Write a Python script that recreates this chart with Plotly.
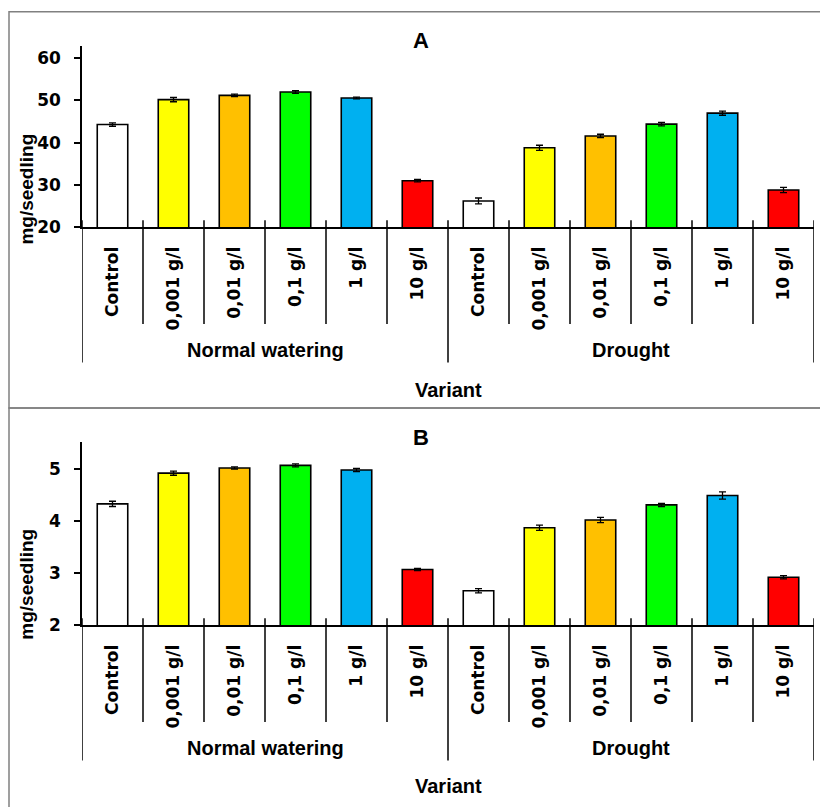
import plotly.graph_objects as go

W, H = 820, 807

categories = ["Control", "0,001 g/l", "0,01 g/l", "0,1 g/l", "1 g/l", "10 g/l"] * 2
groups = ["Normal watering", "Drought"]
bar_colors = ["#FFFFFF", "#FFFF00", "#FFC000", "#00FF00", "#00B0F0", "#FF0000"] * 2

a_values = [44.3, 50.2, 51.2, 52.0, 50.6, 31.0, 26.2, 38.8, 41.6, 44.4, 47.0, 28.8]
a_err = [0.4, 0.5, 0.3, 0.3, 0.2, 0.3, 0.7, 0.6, 0.4, 0.4, 0.5, 0.6]
b_values = [4.33, 4.92, 5.02, 5.07, 4.98, 3.07, 2.66, 3.87, 4.02, 4.31, 4.49, 2.92]
b_err = [0.05, 0.04, 0.02, 0.03, 0.03, 0.02, 0.04, 0.05, 0.05, 0.03, 0.07, 0.03]
a_ticks = [20, 30, 40, 50, 60]
b_ticks = [2, 3, 4, 5]
a_range = [20, 62.8]
b_range = [2, 5.51]
y_title = "mg/seedling"
x_title = "Variant"

ARIAL = "Liberation Sans, Arial, sans-serif"
DJV = "DejaVu Sans, sans-serif"

def px(x):
    return x / W

def py(y):
    return 1 - y / H

xs = list(range(len(categories)))

fig = go.Figure()

panels = [
    dict(vals=a_values, err=a_err, ticks=a_ticks, rng=a_range, top=47, axis=230,
         xa="x", ya="y", label="A", label_y=41, box=(12, 413), ytitle_y=192),
    dict(vals=b_values, err=b_err, ticks=b_ticks, rng=b_range, top=448, axis=633,
         xa="x2", ya="y2", label="B", label_y=443, box=(413, 860), ytitle_y=592),
]

shapes = []
annotations = []

for k, p in enumerate(panels):
    fig.add_trace(go.Bar(
        x=xs, y=p["vals"], width=0.5,
        marker=dict(color=bar_colors, line=dict(color="black", width=1.6)),
        error_y=dict(type="data", array=p["err"], visible=True, color="black",
                     thickness=1.3, width=3.5),
        xaxis=p["xa"], yaxis=p["ya"], showlegend=False, hoverinfo="skip",
    ))
    sfx = "" if k == 0 else "2"
    fig.update_layout(**{
        "xaxis" + sfx: dict(
            domain=[px(82), px(814)], range=[-0.5, len(categories) - 0.5],
            anchor="y" + sfx, showline=True, linecolor="black", linewidth=1.5,
            ticks="", tickvals=xs, ticktext=categories, tickangle=-90,
            tickfont=dict(family=DJV, size=17, color="black", weight="bold"),
            ticklabelstandoff=11, showgrid=False, zeroline=False, fixedrange=True,
        ),
        "yaxis" + sfx: dict(
            domain=[py(p["axis"]), py(p["top"])], range=p["rng"],
            anchor="x" + sfx, showline=True, linecolor="black", linewidth=1.5,
            ticks="outside", ticklen=6, tickwidth=1.5, tickcolor="black",
            tickvals=p["ticks"],
            tickfont=dict(family=DJV, size=17, color="black", weight="bold"),
            ticklabelstandoff=10, showgrid=False, zeroline=False, fixedrange=True,
        ),
    })
    ax = p["axis"]
    for i in range(len(categories) + 1):
        ext = 137 if i % 6 == 0 else 98
        shapes.append(dict(type="line", xref=p["xa"], yref="paper",
                           x0=i - 0.5, x1=i - 0.5, y0=py(ax - 7), y1=py(ax + ext),
                           line=dict(color="black", width=1.5), layer="above"))
    for g, name in enumerate(groups):
        annotations.append(dict(text="<b>%s</b>" % name, xref=p["xa"], yref="paper",
                                x=g * 6 + 2.5, y=py(ax + 124), showarrow=False,
                                font=dict(family=ARIAL, size=20, color="black"),
                                xanchor="center", yanchor="middle"))
    annotations.append(dict(text="<b>%s</b>" % x_title, xref="paper", yref="paper",
                            x=px(448), y=py(min(ax + 165, H - 11)), showarrow=False,
                            font=dict(family=ARIAL, size=20, color="black"),
                            xanchor="center", yanchor="middle"))
    annotations.append(dict(text="<b>%s</b>" % p["label"], xref="paper", yref="paper",
                            x=px(421), y=py(p["label_y"]), showarrow=False,
                            font=dict(family=ARIAL, size=22, color="black"),
                            xanchor="center", yanchor="middle"))
    annotations.append(dict(text="<b>%s</b>" % y_title, xref="paper", yref="paper",
                            x=px(27), y=py(p["ytitle_y"]), showarrow=False, textangle=-90,
                            font=dict(family=ARIAL, size=19, color="black"),
                            xanchor="center", yanchor="middle"))
    y0, y1 = p["box"]
    shapes.append(dict(type="rect", xref="paper", yref="paper",
                       x0=px(9), x1=px(840), y0=py(y0), y1=py(y1),
                       line=dict(color="#808080", width=1.5), layer="below"))

fig.update_layout(
    width=W, height=H, margin=dict(l=0, r=0, t=0, b=0),
    paper_bgcolor="white", plot_bgcolor="white",
    shapes=shapes, annotations=annotations, bargap=0.5,
    hovermode=False,
)

fig.write_html("out.html", config={"displayModeBar": False})
